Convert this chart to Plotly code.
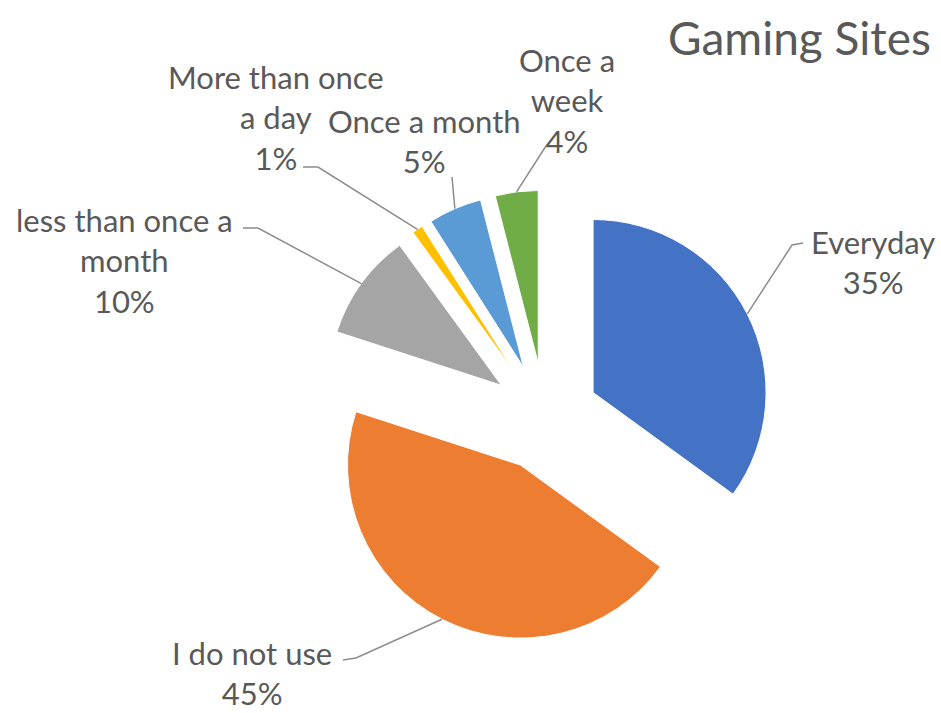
import math
import plotly.graph_objects as go

# Survey answers: how often respondents visit gaming sites (percent)
categories = ["Everyday", "I do not use", "less than once a month",
              "More than once a day", "Once a month", "Once a week"]
shares = [35, 45, 10, 1, 5, 4]
label_text = ["Everyday", "I do not use", "less than once a<br>month",
              "More than once<br>a day", "Once a month", "Once a<br>week"]
colors = ["#4472C4", "#ED7D31", "#A5A5A5", "#FFC000", "#5B9BD5", "#70AD47"]

W, H = 941, 713
CX, CY = 545, 417          # pie centre (px)
R = 173                    # slice radius (px)
PULL = 0.312               # explode distance as a fraction of the radius
HALF = R * (1 + PULL)

def px(x):
    return x / W

def py(y):
    return 1 - y / H

# label block centres and where each leader line leaves the label (px)
label_pos = [(873, 262), (252, 673), (125, 260), (276, 118), (424, 141), (567, 100)]
line_start = [[(803, 243), (792, 245)],
              [(343, 660), (356, 658)],
              [(243, 228), (258, 228)],
              [(303, 167), (318, 167)],
              [(452, 177)],
              [(546, 146)]]

fig = go.Figure(go.Pie(
    labels=categories,
    values=shares,
    sort=False,
    direction="clockwise",
    rotation=0,
    pull=[PULL] * len(shares),
    marker=dict(colors=colors, line=dict(color="white", width=1)),
    textinfo="none",
    hoverinfo="label+percent",
    showlegend=False,
    domain=dict(x=[px(CX - HALF), px(CX + HALF)],
                y=[py(CY + HALF), py(CY - HALF)]),
))

total = sum(shares)
shapes = []
annotations = []
cum = 0
for i, v in enumerate(shares):
    mid = math.radians((cum + v / 2) / total * 360)
    cum += v
    # midpoint of the exploded slice's outer arc
    ax = CX + (R + R * PULL) * math.sin(mid)
    ay = CY - (R + R * PULL) * math.cos(mid)
    pts = line_start[i] + [(ax, ay)]
    path = "M {} {}".format(px(pts[0][0]), py(pts[0][1]))
    for x, y in pts[1:]:
        path += " L {} {}".format(px(x), py(y))
    shapes.append(dict(type="path", xref="paper", yref="paper", path=path,
                       line=dict(color="#8C8C8C", width=1.5)))
    lx, ly = label_pos[i]
    pct = round(v / total * 100)
    annotations.append(dict(
        x=px(lx), y=py(ly), xref="paper", yref="paper",
        text="{}<br>{}%".format(label_text[i], pct),
        showarrow=False, align="center", xanchor="center", yanchor="middle",
        font=dict(family="Lato", size=31, color="#595959"),
    ))

annotations.append(dict(
    x=px(933), y=py(38), xref="paper", yref="paper",
    text="Gaming Sites", showarrow=False, xanchor="right", yanchor="middle",
    font=dict(family="Lato", size=46, color="#595959"),
))

fig.update_layout(
    width=W, height=H,
    margin=dict(l=0, r=0, t=0, b=0),
    paper_bgcolor="white",
    plot_bgcolor="white",
    shapes=shapes,
    annotations=annotations,
)

fig.write_html("out.html")
